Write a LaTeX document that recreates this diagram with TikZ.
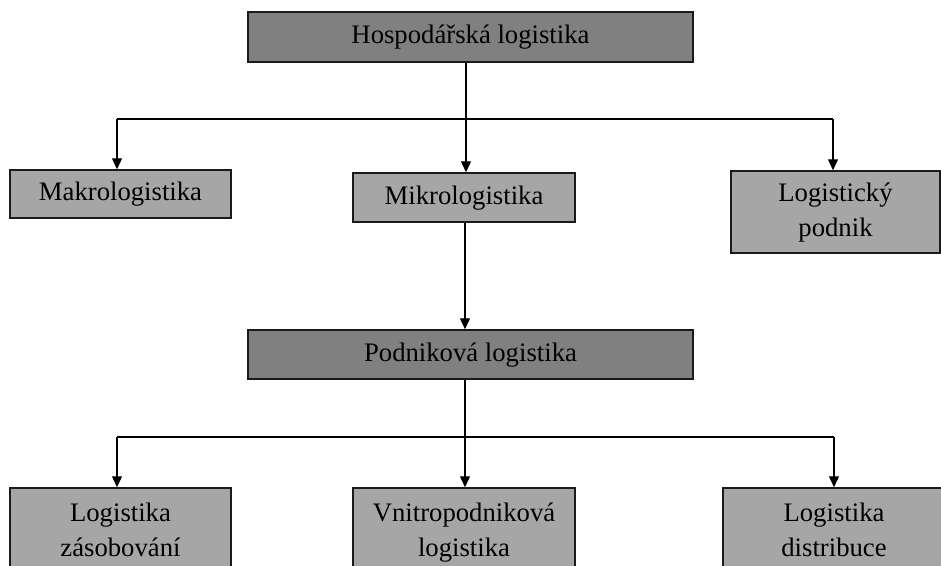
\documentclass[tikz,border=0pt]{standalone}
\usepackage{fontspec}
\setmainfont{Liberation Serif}
\usetikzlibrary{arrows.meta}
\definecolor{darkbox}{HTML}{808080}
\definecolor{lightbox}{HTML}{A6A6A6}
\definecolor{edge}{HTML}{1A1A1A}
\newcommand{\sstrut}{\rule[-7pt]{0pt}{27pt}}
\tikzset{
  box/.style={draw=edge, line width=1.5pt, inner sep=0pt, align=center,
    font=\fontsize{26.7}{35}\selectfont, text=black},
  darkstyle/.style={box, fill=darkbox},
  lightstyle/.style={box, fill=lightbox},
  conn/.style={line width=1.3pt, draw=black},
  arrowconn/.style={conn, -{Triangle[width=10pt,length=11pt]}}
}
\begin{document}
\begin{tikzpicture}[x=1pt,y=-1pt]
\useasboundingbox (0,0) rectangle (941,565);
% nodes
\node[darkstyle, minimum width=445pt, minimum height=50pt] (top) at (470.5,37) {\sstrut Hospodářská logistika};
\node[lightstyle, minimum width=221pt, minimum height=48pt] (makro) at (120.5,194) {\sstrut Makrologistika};
\node[lightstyle, minimum width=222pt, minimum height=49pt] (mikro) at (464,197.5) {\sstrut Mikrologistika};
\node[lightstyle, minimum width=209pt, minimum height=82pt] (lp) at (835.5,212) {\sstrut Logistický\\\sstrut podnik};
\node[darkstyle, minimum width=445pt, minimum height=49pt] (podn) at (470.5,354.5) {\sstrut Podniková logistika};
\node[lightstyle, minimum width=221pt, minimum height=88pt] (zas) at (120.5,532) {\sstrut Logistika\\\sstrut zásobování};
\node[lightstyle, minimum width=222pt, minimum height=88pt] (vnit) at (464,532) {\sstrut Vnitropodniková\\\sstrut logistika};
\node[lightstyle, minimum width=222pt, minimum height=88pt] (dist) at (834,532) {\sstrut Logistika\\\sstrut distribuce};
% junctions
\coordinate (j1) at (466,119);
\coordinate (h1l) at (117,119);
\coordinate (h1r) at (833,119);
\coordinate (j2) at (465,437);
\coordinate (h2l) at (117,437);
\coordinate (h2r) at (834,437);
% upper connectors
\draw[conn] (top.south -| j1) -- (j1);
\draw[conn] (h1l) -- (h1r);
\draw[arrowconn] (j1) -- (j1 |- mikro.north);
\draw[arrowconn] (h1l) -- (h1l |- makro.north);
\draw[arrowconn] (h1r) -- (h1r |- lp.north);
% middle
\draw[arrowconn] (mikro.south -| j2) -- (j2 |- podn.north);
% lower connectors
\draw[conn] (podn.south -| j2) -- (j2);
\draw[conn] (h2l) -- (h2r);
\draw[arrowconn] (j2) -- (j2 |- vnit.north);
\draw[arrowconn] (h2l) -- (h2l |- zas.north);
\draw[arrowconn] (h2r) -- (h2r |- dist.north);
\end{tikzpicture}
\end{document}
